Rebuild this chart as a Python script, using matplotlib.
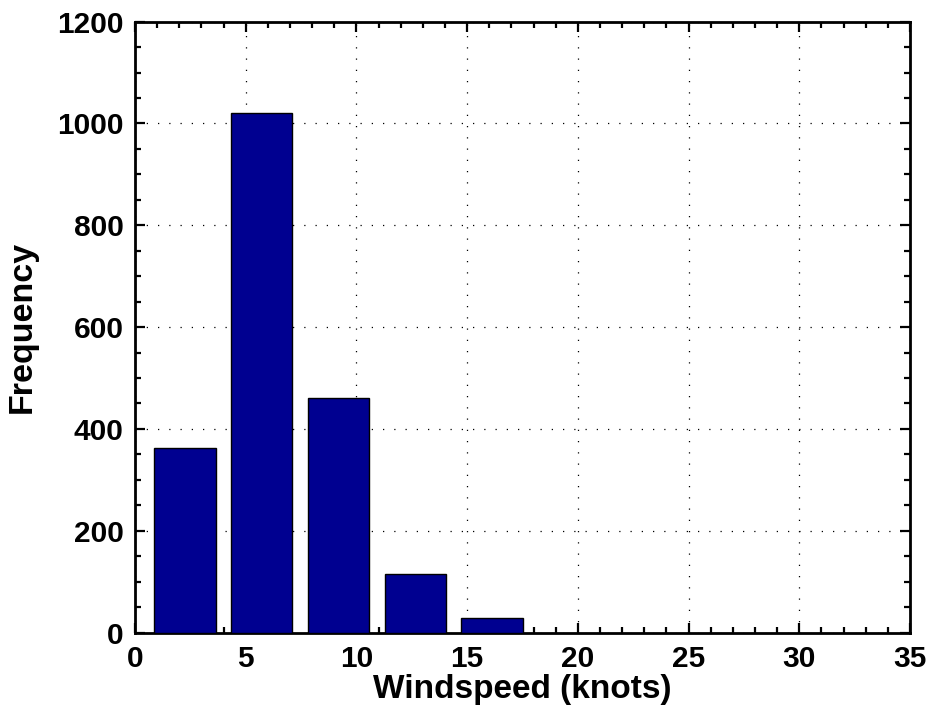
import matplotlib
matplotlib.use("Agg")
import matplotlib.pyplot as plt
from matplotlib.ticker import MultipleLocator

bin_centers = [2.26, 5.72, 9.19, 12.66, 16.13]
counts = [362, 1020, 461, 114, 29]
bar_width = 2.78
x_ticks = [0, 5, 10, 15, 20, 25, 30, 35]
y_ticks = [0, 200, 400, 600, 800, 1000, 1200]

plt.rcParams['font.family'] = ['Liberation Sans', 'DejaVu Sans']
plt.rcParams['font.weight'] = 'bold'

fig = plt.figure(figsize=(9.29, 7.16), dpi=100)
ax = fig.add_axes([0.1453, 0.1166, 0.9795 - 0.1453, 0.9697 - 0.1166])

ax.bar(bin_centers, counts, width=bar_width, color='#000090',
       edgecolor='black', linewidth=1.0, zorder=3)

ax.set_xlim(0, 35)
ax.set_ylim(0, 1200)
ax.set_xticks(x_ticks)
ax.set_yticks(y_ticks)
ax.xaxis.set_minor_locator(MultipleLocator(1))
ax.yaxis.set_minor_locator(MultipleLocator(50))

ax.grid(True, which='major', color='black', linestyle=(0, (1, 8)), linewidth=0.9, zorder=0)
ax.set_axisbelow(True)

ax.tick_params(which='both', direction='in', top=True, right=True,
               labelsize=21.5, width=1.6, colors='black')
ax.tick_params(which='major', length=7)
ax.tick_params(axis='x', which='major', pad=9)
ax.tick_params(axis='y', which='major', pad=8)
ax.tick_params(which='minor', length=4)
for lab in ax.get_xticklabels() + ax.get_yticklabels():
    lab.set_fontweight('bold')

for sp in ax.spines.values():
    sp.set_linewidth(2.0)

ax.set_xlabel('Windspeed (knots)', fontsize=24, fontweight='bold', labelpad=1)
ax.set_ylabel('Frequency', fontsize=24.5, fontweight='bold', labelpad=14)

fig.savefig('out.png', dpi=100)
